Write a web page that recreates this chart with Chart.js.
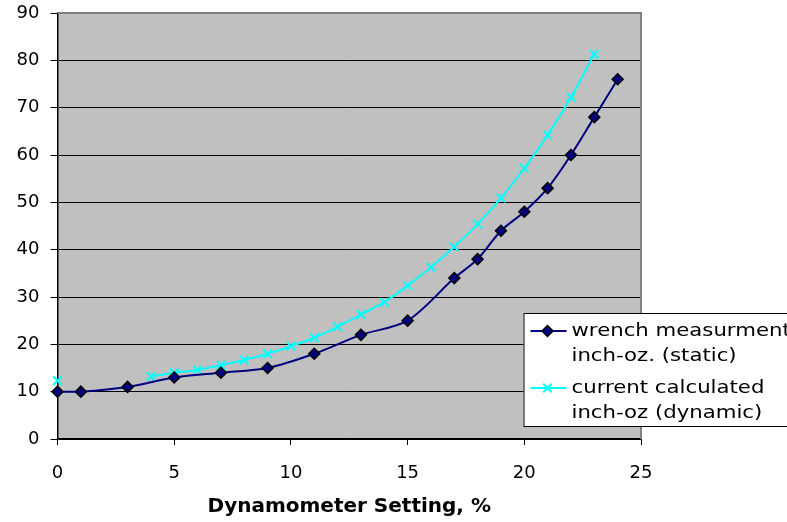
<!DOCTYPE html>
<html>
<head>
<meta charset="utf-8">
<script src="https://cdn.jsdelivr.net/npm/chart.js@4/dist/chart.umd.min.js"></script>
<style>
  body { margin: 0; background: #fff; }
  #wrap { width: 787px; height: 522px; }
</style>
</head>
<body>
<div id="wrap"><canvas id="torqueChart" width="787" height="522"></canvas></div>
<script>
// wrench measurement (static), inch-oz
var staticX = [0, 1, 3, 5, 7, 9, 11, 13, 15, 17, 18, 19, 20, 21, 22, 23, 24];
var staticY = [10, 10, 11, 13, 14, 15, 18, 22, 25, 34, 38, 44, 48, 53, 60, 68, 76];

// current calculated (dynamic), inch-oz -- no readings at 1..3
var dynamicX = [0, 1, 2, 3, 4, 5, 6, 7, 8, 9, 10, 11, 12, 13, 14, 15, 16, 17, 18, 19, 20, 21, 22, 23];
var dynamicY = [12.3, null, null, null, 13.2, 14.0, 14.6, 15.6, 16.7, 18.0, 19.6, 21.4, 23.7, 26.3, 28.9,
                32.4, 36.3, 40.6, 45.4, 50.9, 57.2, 64.2, 72.2, 81.3];

var xTicks = [0, 5, 10, 15, 20, 25];
var yTicks = [0, 10, 20, 30, 40, 50, 60, 70, 80, 90];

var seriesNames = [
    ["wrench measurment", "inch-oz. (static)"],
    ["current calculated", "inch-oz (dynamic)"]
];

var FONT = "'DejaVu Sans', Verdana, sans-serif";

function toPoints(xs, ys) {
    return xs.map(function(x, i) { return { x: x, y: ys[i] }; });
}

// grey plot area + grey frame on top/right
var plotFrame = {
    id: "plotFrame",
    beforeDraw: function(chart) {
        var a = chart.chartArea, ctx = chart.ctx;
        ctx.save();
        ctx.fillStyle = "#c0c0c0";
        ctx.fillRect(a.left, a.top, a.right - a.left, a.bottom - a.top);
        ctx.restore();
    },
    beforeDatasetsDraw: function(chart) {
        var a = chart.chartArea, ctx = chart.ctx;
        ctx.save();
        ctx.strokeStyle = "#808080";
        ctx.lineWidth = 2;
        ctx.beginPath();
        ctx.moveTo(a.left, a.top);
        ctx.lineTo(a.right, a.top);
        ctx.lineTo(a.right, a.bottom);
        ctx.stroke();
        ctx.restore();
    }
};

// boxed legend with two-line labels, like the spreadsheet one
var boxLegend = {
    id: "boxLegend",
    afterDraw: function(chart) {
        var a = chart.chartArea, ctx = chart.ctx;
        var left = a.right - 117.5, top = a.bottom - 126;
        ctx.save();
        ctx.fillStyle = "#fff";
        ctx.fillRect(left, top, 300, 113);
        ctx.strokeStyle = "#000";
        ctx.lineWidth = 1;
        ctx.strokeRect(left + 0.5, top + 0.5, 300, 113);

        chart.data.datasets.forEach(function(ds, i) {
            var y = top + 18 + i * 57;
            ctx.strokeStyle = ds.borderColor;
            ctx.lineWidth = ds.borderWidth;
            ctx.beginPath();
            ctx.moveTo(left + 7, y);
            ctx.lineTo(left + 43, y);
            ctx.stroke();
            ctx.fillStyle = ds.pointBackgroundColor;
            ctx.strokeStyle = ds.pointBorderColor;
            ctx.lineWidth = ds.pointBorderWidth;
            Chart.helpers.drawPoint(ctx, {
                pointStyle: ds.pointStyle, radius: ds.pointRadius,
                rotation: 0, borderWidth: ds.pointBorderWidth
            }, left + 24, y);

            // the original text is a bit wider than DejaVu, stretch it a little
            ctx.save();
            ctx.translate(left + 48, y);
            ctx.scale(1.18, 1);
            ctx.fillStyle = "#000";
            ctx.font = "18px " + FONT;
            ctx.textBaseline = "middle";
            ctx.textAlign = "left";
            seriesNames[i].forEach(function(line, k) {
                ctx.fillText(line, 0, k * 25.5);
            });
            ctx.restore();
        });
        ctx.restore();
    }
};

var ctx = document.getElementById("torqueChart").getContext("2d");
var torqueChart = new Chart(ctx, {
    type: "line",
    data: {
        datasets: [{
            label: seriesNames[0].join(" "),
            data: toPoints(staticX, staticY),
            borderColor: "#000080",
            borderWidth: 2,
            pointStyle: "rectRot",
            pointRadius: 5.5,
            pointBackgroundColor: "#000080",
            pointBorderColor: "#000000",
            pointBorderWidth: 1.5,
            tension: 0.3,
            clip: false
        }, {
            label: seriesNames[1].join(" "),
            data: toPoints(dynamicX, dynamicY),
            borderColor: "#00ffff",
            borderWidth: 2,
            pointStyle: "crossRot",
            pointRadius: 6,
            pointBackgroundColor: "#00ffff",
            pointBorderColor: "#00ffff",
            pointBorderWidth: 2,
            tension: 0.3,
            spanGaps: false,
            clip: false
        }]
    },
    options: {
        responsive: false,
        animation: false,
        layout: { padding: { top: 13, right: 146, left: 0, bottom: 0 } },
        plugins: {
            legend: { display: false },
            tooltip: { enabled: false }
        },
        scales: {
            x: {
                type: "linear",
                min: 0,
                max: 25,
                afterBuildTicks: function(scale) {
                    scale.ticks = xTicks.map(function(v) { return { value: v }; });
                },
                afterFit: function(scale) {
                    scale.height = 83;
                    scale.paddingLeft = 0;
                    scale.paddingRight = 0;
                },
                grid: { drawOnChartArea: false, drawTicks: true, tickLength: 6, color: "#000", lineWidth: 1 },
                border: { color: "#000", width: 1.5 },
                ticks: { color: "#000", font: { family: FONT, size: 18 }, padding: 18, maxRotation: 0 },
                title: {
                    display: true,
                    text: "Dynamometer Setting, %",
                    color: "#000",
                    font: { family: FONT, size: 20, weight: "bold" },
                    padding: { top: 10, bottom: 3 }
                }
            },
            y: {
                min: 0,
                max: 90,
                afterBuildTicks: function(scale) {
                    scale.ticks = yTicks.map(function(v) { return { value: v }; });
                },
                afterFit: function(scale) {
                    scale.width = 57.5;
                    scale.paddingTop = 0;
                    scale.paddingBottom = 0;
                },
                grid: { color: "#000", lineWidth: 1, drawTicks: true, tickLength: 7 },
                border: { color: "#000", width: 1.5 },
                ticks: { color: "#000", font: { family: FONT, size: 18 }, padding: 11 }
            }
        }
    },
    plugins: [plotFrame, boxLegend]
});
</script>
</body>
</html>
